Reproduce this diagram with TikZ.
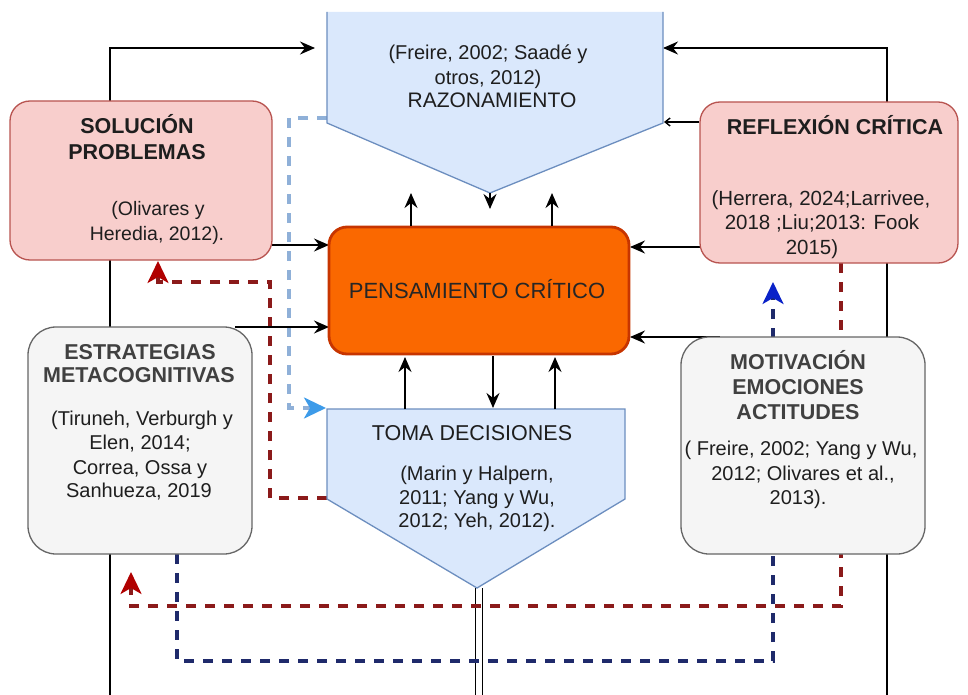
\documentclass[tikz,border=0pt]{standalone}
\usepackage{fontspec}
\setmainfont{Liberation Sans}
\usetikzlibrary{arrows.meta}
\definecolor{pinkF}{HTML}{F8CECC}
\definecolor{pinkD}{HTML}{B85450}
\definecolor{blueF}{HTML}{DAE8FC}
\definecolor{blueD}{HTML}{6C8EBF}
\definecolor{grayF}{HTML}{F5F5F5}
\definecolor{grayD}{HTML}{666666}
\definecolor{orangeF}{HTML}{FA6800}
\definecolor{orangeD}{HTML}{C73500}
\definecolor{dred}{HTML}{8B1A1A}
\definecolor{redtip}{HTML}{B00000}
\definecolor{navy}{HTML}{1F2A6B}
\definecolor{navytip}{HTML}{0A22C8}
\definecolor{lblue}{HTML}{8FB0D8}
\definecolor{lbluetip}{HTML}{3D9BE9}
\definecolor{txt}{HTML}{1E1E1E}
\definecolor{gtxt}{HTML}{404040}
\begin{document}
\begin{tikzpicture}[x=1pt,y=-1pt,
  conn/.style={line width=1.6pt, draw=black},
  arr/.style={conn, -{Stealth[length=15pt,width=13pt,inset=5pt]}},
  smallarr/.style={line width=1.4pt, draw=black, -{Straight Barb[length=5pt,width=8pt]}},
  dsh/.style={line width=3.2pt, dash pattern=on 10pt off 9pt},
  dtip/.style={-{Stealth[length=22pt,width=21pt,inset=6pt,color=#1]}},
  box/.style={rectangle, line width=1.3pt, inner sep=0pt},
  cit/.style={anchor=base, inner sep=0pt, text=txt, font=\fontsize{20}{24}\selectfont},
  ttl/.style={anchor=base, inner sep=0pt, text=txt, font=\bfseries\fontsize{21.5}{25}\selectfont},
  big/.style={anchor=base, inner sep=0pt, text=txt, font=\fontsize{21.5}{25}\selectfont}]
\useasboundingbox (0,0) rectangle (968,695);

% named coordinates
\coordinate (Lbot) at (110,695);
\coordinate (Ltop) at (110,48);
\coordinate (Ltip) at (315,48);
\coordinate (Rbot) at (887,695);
\coordinate (Rtop) at (887,48);
\coordinate (Rtip) at (663,48);

% background connectors
\draw[arr] (Lbot) -- (Ltop) -- (Ltip);
\draw[arr] (Rbot) -- (Rtop) -- (Rtip);
\draw[line width=1.5pt] (475.5,588) -- (475.5,695);
\draw[line width=1.5pt] (482.5,588) -- (482.5,695);

\draw[dsh, draw=lblue, dtip=lbluetip]
  (327,118) -- (289,118) -- (289,408) -- (326,408);
\draw[dsh, draw=dred, dtip=redtip]
  (327,498) -- (270,498) -- (270,282) -- (158,282) -- (158,261);
\draw[dsh, draw=dred, dtip=redtip]
  (841,263) -- (841,606) -- (131,606) -- (131,572);
\draw[dsh, draw=navy, dtip=navytip]
  (177,554) -- (177,661) -- (773,661) -- (773,282);

% arrows into Pensamiento from the side boxes
\draw[arr] (272,245) -- (329,245);
\draw[arr] (235,327) -- (329,327);
\draw[arr] (700,247) -- (630,247);
\draw[arr] (720,337) -- (630,337);

% Razonamiento pentagon
\coordinate (razL) at (327,123);
\coordinate (razR) at (663,123);
\coordinate (razP) at (490,193);
\fill[blueF] (327,12) -- (razL) -- (razP) -- (razR) -- (663,12) -- cycle;
\draw[blueD, line width=1.3pt] (327,12) -- (razL) -- (razP) -- (razR) -- (663,12);

% Toma decisiones pentagon
\coordinate (tomP) at (477,588);
\draw[fill=blueF, draw=blueD, line width=1.3pt] (327,409) -- (625,409) -- (625,499) -- (tomP) -- (327,499) -- cycle;

% boxes
\node[box, fill=pinkF, draw=pinkD, rounded corners=20pt, minimum width=262pt, minimum height=159pt] (sol) at (141,180.5) {};
\node[box, fill=pinkF, draw=pinkD, rounded corners=20pt, minimum width=258pt, minimum height=161pt] (ref) at (829,182.5) {};
\node[box, fill=grayF, draw=grayD, rounded corners=28pt, minimum width=224pt, minimum height=227pt] (est) at (140,440.5) {};
\node[box, fill=grayF, draw=grayD, rounded corners=28pt, minimum width=244pt, minimum height=217pt] (mot) at (803,445.5) {};
\node[box, fill=orangeF, draw=orangeD, line width=2.8pt, rounded corners=18pt, minimum width=300pt, minimum height=127pt] (pc) at (479,290.5) {};

% short arrows around Pensamiento
\draw[arr] (411,226) -- (411,193);
\draw[arr] (552,226) -- (552,193);
\draw[arr] (razP) -- (490,209);
\draw[arr] (405,409) -- (405,357);
\draw[arr] (555,409) -- (555,357);
\draw[arr] (493,356) -- (493,408);
\draw[smallarr] (ref.west |- 0,122) -- (664,122);

% texts: Razonamiento
\node[cit] (t1) at (488,60) {(Freire, 2002; Saadé y};
\node[cit] (t2) at (488,85) {otros, 2012)};
\node[cit, font=\fontsize{21}{24}\selectfont] (t3) at (492,107.5) {RAZONAMIENTO};

% Solucion
\node[ttl] (s1) at (137,133.5) {SOLUCIÓN};
\node[ttl] (s2) at (137,159.5) {PROBLEMAS};
\node[cit, font=\fontsize{19.5}{24}\selectfont] (s3) at (158,215) {(Olivares y};
\node[cit, font=\fontsize{19.5}{24}\selectfont] (s4) at (157,240) {Heredia, 2012).};

% Reflexion
\node[ttl] (r1) at (835,134.5) {REFLEXIÓN CRÍTICA};
\node[cit, font=\fontsize{20.5}{24}\selectfont] (r2) at (821,205) {(Herrera, 2024;Larrivee,};
\node[cit, font=\fontsize{20.5}{24}\selectfont] (r3) at (822,229) {2018 ;Liu;2013: Fook};
\node[cit, font=\fontsize{20.5}{24}\selectfont] (r4) at (812,254) {2015)};

% Pensamiento
\node[anchor=base, inner sep=0pt, text=black!85, font=\fontsize{22}{26}\selectfont] (p1) at (477,298) {PENSAMIENTO CRÍTICO};

% Estrategias
\node[ttl, text=gtxt] (e1) at (140,359.5) {ESTRATEGIAS};
\node[ttl, text=gtxt] (e2) at (139,382.5) {METACOGNITIVAS};
\node[cit] (e3) at (142,425) {(Tiruneh, Verburgh y};
\node[cit] (e4) at (140,449) {Elen, 2014;};
\node[cit] (e5) at (140,474) {Correa, Ossa y};
\node[cit] (e6) at (139,497) {Sanhueza, 2019};

% Motivacion
\node[ttl, text=gtxt] (m1) at (798,369.5) {MOTIVACIÓN};
\node[ttl, text=gtxt] (m2) at (798,394.5) {EMOCIONES};
\node[ttl, text=gtxt] (m3) at (798,419.5) {ACTITUDES};
\node[cit] (m4) at (801,455) {( Freire, 2002; Yang y Wu,};
\node[cit] (m5) at (803,480) {2012; Olivares et al.,};
\node[cit] (m6) at (798,504) {2013).};

% Toma decisiones
\node[big] (d1) at (472,440.5) {TOMA DECISIONES};
\node[cit] (d2) at (477,480) {(Marin y Halpern,};
\node[cit] (d3) at (477,504) {2011; Yang y Wu,};
\node[cit] (d4) at (477,527) {2012; Yeh, 2012).};
\end{tikzpicture}
\end{document}
